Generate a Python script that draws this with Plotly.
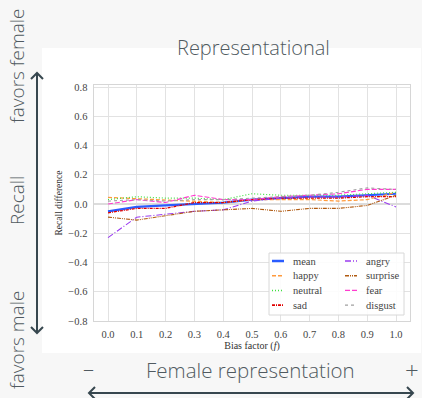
import plotly.graph_objects as go

W, H = 422, 398

bias = [0.0, 0.1, 0.2, 0.3, 0.4, 0.5, 0.6, 0.7, 0.8, 0.9, 1.0]
mean = [-0.05, -0.02, -0.01, 0.00, 0.01, 0.03, 0.04, 0.05, 0.05, 0.06, 0.07]
happy = [0.045, 0.035, 0.03, 0.02, 0.01, 0.03, 0.03, 0.03, 0.02, 0.03, 0.08]
neutral = [0.03, 0.05, 0.04, 0.04, 0.03, 0.07, 0.06, 0.06, 0.06, 0.07, 0.08]
sad = [-0.06, -0.03, -0.03, 0.01, 0.01, 0.03, 0.04, 0.04, 0.04, 0.05, 0.05]
angry = [-0.23, -0.09, -0.07, -0.05, -0.04, 0.02, 0.04, 0.05, 0.05, 0.06, -0.02]
surprise = [-0.09, -0.11, -0.08, -0.05, -0.04, -0.03, -0.05, -0.03, -0.03, -0.01, 0.06]
fear = [0.00, 0.03, 0.01, 0.06, 0.03, 0.03, 0.05, 0.06, 0.07, 0.10, 0.10]
disgust = [0.02, 0.03, 0.02, 0.03, 0.03, 0.04, 0.05, 0.06, 0.08, 0.11, 0.10]

x_ticks = [0.0, 0.1, 0.2, 0.3, 0.4, 0.5, 0.6, 0.7, 0.8, 0.9, 1.0]
y_ticks = [-0.8, -0.6, -0.4, -0.2, 0.0, 0.2, 0.4, 0.6, 0.8]

series = [
    ("mean", mean, "#2a5cff", "solid", 2.2),
    ("happy", happy, "#ff9a3c", "4px,2px", 1.2),
    ("neutral", neutral, "#3ee03e", "1px,2px", 1.2),
    ("sad", sad, "#e00000", "3px,1px,1px,1px", 1.3),
    ("angry", angry, "#9b3cf0", "6px,2px,1px,2px", 1.1),
    ("surprise", surprise, "#b05a10", "4px,1px,1px,1px,1px,1px", 1.1),
    ("fear", fear, "#ff3ccf", "5px,2px", 1.1),
    ("disgust", disgust, "#a0a0a0", "3px,3px", 1.1),
]

serif = "Liberation Serif, DejaVu Serif, serif"
sans = "Open Sans, Noto Sans, sans-serif"
txt = "#505a60"
arrow = "#37474f"

fig = go.Figure()
for name, vals, col, dash, w in series:
    fig.add_trace(go.Scatter(x=bias, y=vals, mode="lines", name=name,
                             line=dict(color=col, dash=dash, width=w)))


def px(x):
    return x / W


def py(y):
    return 1 - y / H


shapes = [
    dict(type="rect", xref="paper", yref="paper", x0=px(42), x1=px(421), y0=py(353), y1=py(48),
         fillcolor="white", line=dict(width=0), layer="below"),
    dict(type="line", xref="paper", yref="paper", x0=px(37), x1=px(37), y0=py(73), y1=py(333),
         line=dict(color=arrow, width=2)),
    dict(type="path", xref="paper", yref="paper",
         path=f"M {px(31)},{py(79)} L {px(37)},{py(73)} L {px(43)},{py(79)}",
         line=dict(color=arrow, width=2)),
    dict(type="path", xref="paper", yref="paper",
         path=f"M {px(31)},{py(327)} L {px(37)},{py(333)} L {px(43)},{py(327)}",
         line=dict(color=arrow, width=2)),
    dict(type="line", xref="paper", yref="paper", x0=px(89), x1=px(413), y0=py(393), y1=py(393),
         line=dict(color=arrow, width=2)),
    dict(type="path", xref="paper", yref="paper",
         path=f"M {px(95)},{py(387)} L {px(89)},{py(393)} L {px(95)},{py(399)}",
         line=dict(color=arrow, width=2)),
    dict(type="path", xref="paper", yref="paper",
         path=f"M {px(407)},{py(387)} L {px(413)},{py(393)} L {px(407)},{py(399)}",
         line=dict(color=arrow, width=2)),
]


def label(text, x, y, size=18, angle=0):
    return dict(text=text, x=px(x), y=py(y), xref="paper", yref="paper",
                xanchor="center", yanchor="middle", textangle=angle,
                showarrow=False, font=dict(family=sans, size=size, color=txt, weight=300))


annotations = [
    label("Representational", 253, 47, 20),
    label("favors female", 17, 66, 19, -90),
    label("Recall", 17, 201, 19, -90),
    label("favors male", 17, 340, 19, -90),
    label("Female representation", 250, 370, 20.5),
    label("\u2013", 88, 368, 22),
    label("+", 412, 369, 24),
]

# custom two-column legend (matplotlib style, column-major)
lx0, ly0, lx1, ly1 = 269, 253, 404, 315
shapes.append(dict(type="rect", xref="paper", yref="paper", x0=px(lx0), x1=px(lx1),
                   y0=py(ly1), y1=py(ly0), fillcolor="rgba(255,255,255,0.9)",
                   line=dict(color="#d8d8d8", width=1)))
for i, (name, vals, col, dash, w) in enumerate(series):
    colm, row = divmod(i, 4)
    sx = 272 + colm * 73
    sy = 261 + row * 14.7
    shapes.append(dict(type="line", xref="paper", yref="paper", x0=px(sx), x1=px(sx + 12),
                       y0=py(sy), y1=py(sy), line=dict(color=col, dash=dash, width=w + 0.3)))
    annotations.append(dict(text=name, x=px(sx + 19), y=py(sy), xref="paper", yref="paper",
                            xanchor="left", yanchor="middle", showarrow=False,
                            font=dict(family=serif, size=10.5, color="#444")))

fig.update_layout(
    width=W, height=H,
    paper_bgcolor="#f7f7f7", plot_bgcolor="white",
    margin=dict(l=0, r=0, t=0, b=0, autoexpand=False),
    showlegend=False,
    shapes=shapes, annotations=annotations,
    xaxis=dict(domain=[px(93.6), px(410.4)], range=[-0.05, 1.05],
               tickvals=x_ticks, tickformat=".1f",
               showgrid=True, gridcolor="#e2e2e2", gridwidth=1.3,
               showline=True, linecolor="#d6d6d6", linewidth=1.2, mirror=True,
               zeroline=False, ticks="", automargin=False, ticklabelstandoff=3,
               tickfont=dict(family=serif, size=10.5, color="#444"),
               title=dict(text="Bias factor (<i>f</i>)", standoff=3,
                          font=dict(family=serif, size=10, color="#333"))),
    yaxis=dict(domain=[py(321), py(85)], range=[-0.8, 0.8137],
               tickvals=y_ticks, tickformat=".1f",
               showgrid=True, gridcolor="#e2e2e2", gridwidth=1.3,
               showline=True, linecolor="#d6d6d6", linewidth=1.2, mirror=True,
               zeroline=True, zerolinecolor="#dcdcdc", zerolinewidth=2,
               ticks="", automargin=False, ticklabelstandoff=3,
               tickfont=dict(family=serif, size=10.5, color="#444"),
               title=dict(text="Recall difference", standoff=4,
                          font=dict(family=serif, size=9.5, color="#333"))),
)

fig.write_html("out.html", config={"displayModeBar": False},
               post_script="document.body.style.margin='0';")
